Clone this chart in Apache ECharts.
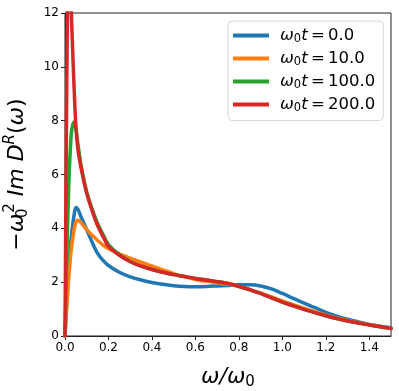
<!DOCTYPE html>
<html>
<head>
<meta charset="utf-8">
<script src="https://cdn.jsdelivr.net/npm/echarts@6/dist/echarts.min.js"></script>
<style>
  html, body { margin: 0; padding: 0; background: #fff; }
  #chart { width: 399px; height: 391px; }
</style>
</head>
<body>
<div id="chart"></div>
<script>
// omega / omega_0 sample points
const xs = [0, 0.005, 0.01, 0.015, 0.02, 0.025, 0.03, 0.04, 0.05, 0.06, 0.075, 0.1, 0.125, 0.15, 0.175,
  0.2, 0.25, 0.3, 0.35, 0.4, 0.45, 0.5, 0.55, 0.6, 0.65, 0.7, 0.75, 0.8, 0.85, 0.9, 0.95,
  1.0, 1.05, 1.1, 1.15, 1.2, 1.25, 1.3, 1.35, 1.4, 1.45, 1.5];

// omega_0 t = 0.0
const t0 = [0, 0.8, 1.5, 2.2, 2.8, 3.3, 3.75, 4.4, 4.77, 4.7, 4.4, 3.95, 3.48, 3.07, 2.81,
  2.62, 2.37, 2.2, 2.08, 1.99, 1.92, 1.87, 1.84, 1.83, 1.84, 1.86, 1.88, 1.9, 1.9, 1.86, 1.75,
  1.58, 1.4, 1.22, 1.05, 0.88, 0.74, 0.62, 0.52, 0.43, 0.36, 0.3];
// omega_0 t = 10.0
const t10 = [0, 0.7, 1.3, 1.9, 2.45, 2.9, 3.3, 3.85, 4.22, 4.3, 4.2, 3.95, 3.74, 3.55, 3.38,
  3.24, 3.05, 2.89, 2.74, 2.6, 2.46, 2.32, 2.2, 2.1, 2.03, 1.98, 1.92, 1.84, 1.72, 1.59, 1.45,
  1.3, 1.16, 1.03, 0.9, 0.78, 0.67, 0.58, 0.5, 0.42, 0.35, 0.28];
// omega_0 t = 100.0
const t100 = [0, 1.8, 3.5, 5.0, 6.2, 7.0, 7.6, 7.95, 7.7, 7.1, 6.3, 5.35, 4.72, 4.18, 3.77,
  3.4, 3.02, 2.77, 2.6, 2.47, 2.37, 2.28, 2.21, 2.14, 2.08, 2.02, 1.95, 1.85, 1.72, 1.58, 1.42,
  1.26, 1.12, 0.99, 0.87, 0.75, 0.65, 0.56, 0.48, 0.41, 0.34, 0.28];
// omega_0 t = 200.0
const t200 = [0, 6, 11, 13.5, 13.8, 13, 11.8, 9.6, 7.8, 6.9, 6.2, 5.3, 4.65, 4.1, 3.7,
  3.33, 3.0, 2.76, 2.6, 2.47, 2.37, 2.28, 2.21, 2.14, 2.08, 2.02, 1.95, 1.85, 1.72, 1.58, 1.42,
  1.26, 1.12, 0.99, 0.87, 0.75, 0.65, 0.56, 0.48, 0.41, 0.34, 0.28];

const names = ['t0', 't10', 't100', 't200'];
const labels = ['0.0', '10.0', '100.0', '200.0'];
const colors = ['#1f77b4', '#ff7f0e', '#2ca02c', '#d62728'];
const values = [t0, t10, t100, t200];

const myChart = echarts.init(document.getElementById('chart'));

const series = values.map(function (v, i) {
  return {
    name: names[i],
    type: 'line',
    data: xs.map(function (x, j) { return [x, v[j]]; }),
    showSymbol: false,
    smooth: 0.3,
    lineStyle: { color: colors[i], width: 3.5, cap: 'round', join: 'round' },
    itemStyle: { color: colors[i] },
    z: 2 + i
  };
});

const mathFont = 'DejaVu Sans';

const option = {
  animation: false,
  grid: {
    left: 65, right: 8, top: 13, bottom: 55,
    outerBoundsMode: 'none',
    containLabel: false,
    show: true, borderColor: '#222', borderWidth: 1
  },
  legend: {
    orient: 'vertical',
    left: 228, top: 21,
    padding: [6, 8, 6, 5],
    itemGap: 4.5,
    itemWidth: 36, itemHeight: 4,
    icon: 'rect',
    backgroundColor: '#fff',
    borderColor: '#d8d8d8', borderWidth: 1, borderRadius: 4,
    data: names,
    formatter: function (n) {
      return '{w|ω}{s|0}{w|t}{n|\u2009=\u2009' + labels[names.indexOf(n)] + '}';
    },
    textStyle: {
      padding: [0, 0, 0, 6],
      rich: {
        w: { fontFamily: mathFont, fontStyle: 'italic', fontSize: 16.5, color: '#000', lineHeight: 20 },
        s: { fontFamily: mathFont, fontSize: 11.5, color: '#000', verticalAlign: 'bottom', padding: [6, 0, 0, 0], lineHeight: 20 },
        n: { fontFamily: mathFont, fontSize: 16.5, color: '#000', lineHeight: 20 }
      }
    }
  },
  xAxis: {
    type: 'value',
    min: 0, max: 1.5, interval: 0.2,
    name: '{w|ω/ω}{s|0}',
    nameLocation: 'middle',
    nameGap: 28,
    nameTextStyle: {
      rich: {
        w: { fontFamily: mathFont, fontStyle: 'italic', fontSize: 22, color: '#000', lineHeight: 26 },
        s: { fontFamily: mathFont, fontSize: 15, color: '#000', verticalAlign: 'bottom', padding: [9, 0, 0, 0], lineHeight: 26 }
      }
    },
    splitLine: { show: false },
    axisLine: { onZero: false, lineStyle: { color: '#222', width: 1 } },
    axisTick: { show: true, length: 4, lineStyle: { color: '#222' } },
    axisLabel: {
      showMaxLabel: false,
      margin: 6,
      fontFamily: mathFont, fontSize: 12, color: '#000',
      formatter: function (v) { return v.toFixed(1); }
    }
  },
  yAxis: {
    type: 'value',
    min: 0, max: 12, interval: 2,
    name: '{n|−}{w|ω}{s|0}{p|2}{w| Im D}{q|R}{n|(}{w|ω}{n|)}',
    nameLocation: 'middle',
    nameRotate: 90,
    nameGap: 34,
    nameTextStyle: {
      rich: {
        w: { fontFamily: mathFont, fontStyle: 'italic', fontSize: 22, color: '#000', lineHeight: 28 },
        n: { fontFamily: mathFont, fontSize: 22, color: '#000', lineHeight: 28 },
        s: { fontFamily: mathFont, fontSize: 15, color: '#000', verticalAlign: 'bottom', padding: [10, 0, 0, 0], lineHeight: 28, width: 1 },
        p: { fontFamily: mathFont, fontSize: 15, color: '#000', verticalAlign: 'top', padding: [0, 0, 10, 0], lineHeight: 28 },
        q: { fontFamily: mathFont, fontStyle: 'italic', fontSize: 15, color: '#000', verticalAlign: 'top', padding: [0, 0, 10, 0], lineHeight: 28 }
      }
    },
    splitLine: { show: false },
    axisLine: { onZero: false, lineStyle: { color: '#222', width: 1 } },
    axisTick: { show: true, length: 4, lineStyle: { color: '#222' } },
    axisLabel: { margin: 6, fontFamily: mathFont, fontSize: 12, color: '#000' }
  },
  series: series
};

myChart.setOption(option);
</script>
</body>
</html>
